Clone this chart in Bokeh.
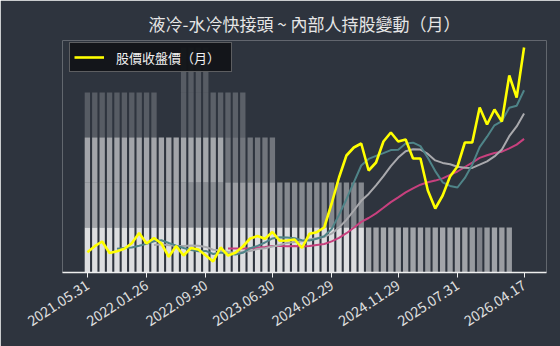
import math
from bokeh.plotting import figure
from bokeh.models import ColumnDataSource, Range1d, FixedTicker, Legend, LegendItem
from bokeh.embed import file_html
from bokeh.resources import INLINE

# ---------------- data ----------------
title_text = "液冷-水冷快接頭 ~ 內部人持股變動（月）"
legend_label = "股價收盤價（月）"

tick_index = [0, 8, 16, 25, 33, 42, 50, 59]
tick_labels = ["2021.05.31", "2022.01.26", "2022.09.30", "2023.06.30",
               "2024.02.29", "2024.11.29", "2025.07.31", "2026.04.17"]

# monthly closing price (relative units), month index 0..59
close_price = [20.3, 26.3, 31.0, 19.5, 21.3, 23.7, 29.3, 39.5, 29.0, 34.5,
               29.0, 15.7, 26.5, 17.0, 24.5, 23.0, 17.0, 11.0, 25.0, 17.0,
               19.7, 26.0, 34.0, 36.5, 33.7, 40.5, 31.7, 32.0, 33.0, 24.5,
               38.7, 40.3, 45.0, 69.0, 95.0, 117.0, 125.0, 129.0, 102.0, 110.0,
               131.0, 140.0, 131.0, 133.0, 114.0, 114.0, 82.0, 64.0, 77.0, 96.0,
               106.0, 130.0, 130.0, 165.0, 148.0, 163.0, 151.0, 197.0, 175.0, 225.0]

ma5_start = 4
ma5 = [23.7, 24.4, 25.0, 26.7, 28.6, 31.2, 32.3, 29.5, 26.9, 24.5,
       22.5, 21.3, 21.6, 18.5, 20.1, 18.6, 17.9, 19.7, 24.3, 26.6,
       30.0, 34.1, 35.3, 34.9, 34.2, 32.3, 32.0, 33.7, 36.3, 43.5,
       57.6, 73.3, 90.2, 107.0, 113.6, 116.6, 119.4, 122.4, 122.8, 129.0,
       129.8, 126.4, 114.8, 101.4, 90.2, 86.6, 85.0, 94.6, 107.8, 125.4,
       135.8, 147.2, 151.4, 164.8, 166.8, 182.2]

ma10_start = 9
ma10 = [27.4, 28.3, 27.3, 26.8, 26.6, 26.9, 26.8, 25.6, 22.7, 22.3,
        20.6, 19.6, 20.7, 21.4, 23.4, 24.3, 26.0, 27.5, 29.6, 30.4,
        31.2, 33.1, 34.5, 35.6, 38.8, 45.0, 52.6, 62.0, 71.7, 78.6,
        87.1, 96.3, 106.3, 114.9, 121.3, 123.2, 122.9, 118.6, 112.1, 109.6,
        108.2, 105.7, 104.7, 104.6, 107.8, 111.2, 116.1, 123.0, 136.3, 146.1,
        159.0]

ma20_start = 19
ma20 = [24.0, 24.0, 24.0, 24.1, 25.0, 25.6, 26.4, 26.5, 26.2, 26.4,
        25.9, 26.4, 27.6, 28.5, 31.1, 34.6, 39.3, 44.7, 50.6, 54.5,
        59.1, 64.7, 70.4, 75.2, 80.1, 84.1, 87.8, 90.3, 91.9, 94.1,
        97.7, 101.0, 105.5, 109.8, 114.6, 117.2, 119.5, 120.8, 124.2, 127.9,
        133.6]

# insider holding bands (months 0..57), shade intensity per band, 0 = none
band1 = [0.84, 0.84, 0.84, 0.84, 0.84, 0.84, 0.84, 0.84, 0.84, 0.84,
         0.84, 0.84, 0.84, 0.84, 0.84, 0.84, 0.84, 0.84, 0.84, 0.84,
         0.84, 0.84, 0.84, 0.84, 0.84, 0.84, 0.84, 0.84, 0.84, 0.84,
         0.84, 0.84, 0.84, 0.84, 0.84, 0.84, 0.84, 0.84, 0.57, 0.54,
         0.57, 0.57, 0.57, 0.56, 0.55, 0.56, 0.50, 0.55, 0.56, 0.55,
         0.56, 0.55, 0.50, 0.39, 0.50, 0.55, 0.52, 0.50]
band2 = [0.56, 0.56, 0.56, 0.56, 0.56, 0.56, 0.56, 0.56, 0.56, 0.56,
         0.56, 0.56, 0.56, 0.52, 0.44, 0.44, 0.44, 0.44, 0.44, 0.52,
         0.52, 0.52, 0.52, 0.52, 0.52, 0.52, 0.42, 0.42, 0.42, 0.42,
         0.42, 0.42, 0.42, 0.42, 0.42, 0.42, 0.42, 0.42, 0.0, 0.0,
         0.0, 0.0, 0.0, 0.0, 0.0, 0.0, 0.0, 0.0, 0.0, 0.0,
         0.0, 0.0, 0.0, 0.0, 0.0, 0.0, 0.0, 0.0]
band3 = [0.56, 0.56, 0.56, 0.56, 0.56, 0.56, 0.56, 0.56, 0.56, 0.56,
         0.56, 0.56, 0.56, 0.57, 0.57, 0.57, 0.57, 0.57, 0.57, 0.32,
         0.32, 0.32, 0.32, 0.32, 0.32, 0.32, 0.0, 0.0, 0.0, 0.0,
         0.0, 0.0, 0.0, 0.0, 0.0, 0.0, 0.0, 0.0, 0.0, 0.0,
         0.0, 0.0, 0.0, 0.0, 0.0, 0.0, 0.0, 0.0, 0.0, 0.0,
         0.0, 0.0, 0.0, 0.0, 0.0, 0.0, 0.0, 0.0]
band4 = [0.20, 0.20, 0.20, 0.20, 0.20, 0.20, 0.20, 0.20, 0.20, 0.20,
         0.0, 0.0, 0.0, 0.20, 0.20, 0.20, 0.20, 0.22, 0.22, 0.22,
         0.22, 0.22, 0.0, 0.0, 0.0, 0.0, 0.0, 0.0, 0.0, 0.0,
         0.0, 0.0, 0.0, 0.0, 0.0, 0.0, 0.0, 0.0, 0.0, 0.0,
         0.0, 0.0, 0.0, 0.0, 0.0, 0.0, 0.0, 0.0, 0.0, 0.0,
         0.0, 0.0, 0.0, 0.0, 0.0, 0.0, 0.0, 0.0]
band5 = [0.0, 0.0, 0.0, 0.0, 0.0, 0.0, 0.0, 0.0, 0.0, 0.0,
         0.0, 0.0, 0.0, 0.20, 0.20, 0.20, 0.20, 0.0, 0.0, 0.0,
         0.0, 0.0, 0.0, 0.0, 0.0, 0.0, 0.0, 0.0, 0.0, 0.0,
         0.0, 0.0, 0.0, 0.0, 0.0, 0.0, 0.0, 0.0, 0.0, 0.0,
         0.0, 0.0, 0.0, 0.0, 0.0, 0.0, 0.0, 0.0, 0.0, 0.0,
         0.0, 0.0, 0.0, 0.0, 0.0, 0.0, 0.0, 0.0]

# ---------------- styling ----------------
BG = "#2e343e"
FONT = "Noto Sans CJK TC"

p = figure(width=560, height=346,
           x_range=Range1d(-3.36, 62.03), y_range=Range1d(0, 232),
           min_border_left=62, min_border_right=14,
           min_border_top=40, min_border_bottom=74,
           background_fill_color=BG, border_fill_color=BG,
           outline_line_color=None, toolbar_location=None,
           output_backend="svg")
p.extra_y_ranges = {"bands": Range1d(0, 232 / 45.0)}

bands = [band1, band2, band3, band4, band5]
for k, shade in enumerate(bands):
    xs = [i for i, s in enumerate(shade) if s > 0]
    src = ColumnDataSource(dict(
        x=xs,
        bottom=[k for _ in xs],
        top=[k + 1 for _ in xs],
        alpha=[shade[i] for i in xs],
    ))
    p.vbar(x="x", bottom="bottom", top="top", width=0.72, source=src,
           fill_color="white", fill_alpha="alpha", line_color=None,
           y_range_name="bands")

p.line(list(range(ma20_start, ma20_start + len(ma20))), ma20,
       line_color="#c8407e", line_width=2)
p.line(list(range(ma10_start, ma10_start + len(ma10))), ma10,
       line_color="#a9a9ad", line_width=2)
p.line(list(range(ma5_start, ma5_start + len(ma5))), ma5,
       line_color="#4f8488", line_width=2)
price_r = p.line(list(range(len(close_price))), close_price,
                 line_color="#ffff00", line_width=2.6)

p.grid.visible = False
p.yaxis.visible = False

xa = p.xaxis[0]
xa.ticker = FixedTicker(ticks=tick_index)
xa.major_label_overrides = {t: lab for t, lab in zip(tick_index, tick_labels)}
xa.major_label_orientation = 0.58
xa.axis_line_color = "#eeeeee"
xa.axis_line_width = 1.5
xa.major_tick_line_color = "#eeeeee"
xa.major_tick_out = 5
xa.major_tick_in = 0
xa.minor_tick_line_color = None
xa.major_label_text_color = "#e0e0e0"
xa.major_label_text_font = FONT
xa.major_label_text_font_size = "14px"
xa.major_label_standoff = 6

p.title.text = title_text
p.title.align = "center"
p.title.text_color = "#e6e6e6"
p.title.text_font = FONT
p.title.text_font_size = "17px"
p.title.text_font_style = "normal"

legend = Legend(items=[LegendItem(label=legend_label, renderers=[price_r])],
                location=(7, 200))
legend.background_fill_color = "#121418"
legend.background_fill_alpha = 0.95
legend.border_line_color = "#a8a8a8"
legend.border_line_width = 1
legend.label_text_color = "#f0f0f0"
legend.label_text_font = FONT
legend.label_text_font_size = "13px"
legend.glyph_width = 30
legend.glyph_height = 20
legend.label_height = 20
legend.padding = 4
legend.spacing = 0
legend.margin = 0
legend.label_standoff = 12
legend.label_width = 111
p.add_layout(legend)

open("out.html", "w").write(file_html(p, INLINE))
